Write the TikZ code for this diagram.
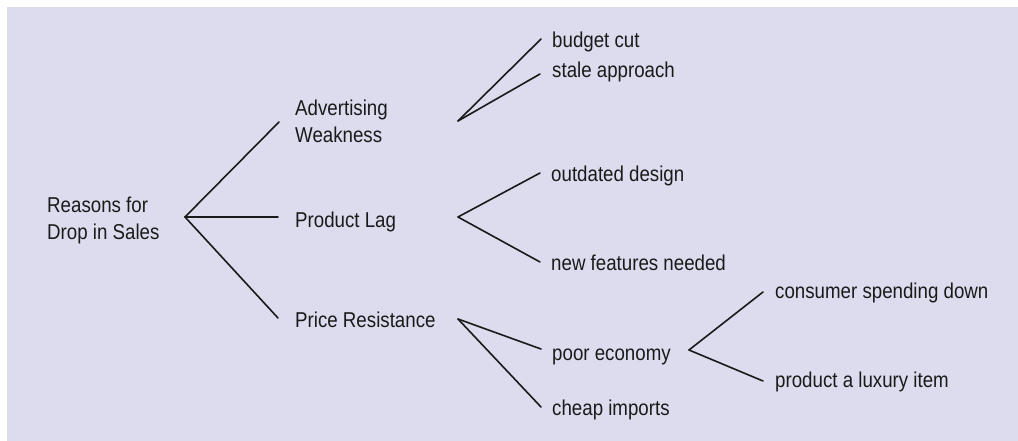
\documentclass[tikz,border=0pt]{standalone}
\usepackage{fontspec}
\setmainfont{Liberation Sans}[FakeStretch=0.87]
\usetikzlibrary{calc}
\definecolor{bg}{HTML}{DCDCEE}
\definecolor{ink}{HTML}{1A1A1A}
\begin{document}
\begin{tikzpicture}[x=1pt,y=-1pt,
  lbl/.style={anchor=base west,inner sep=0pt,text=ink,font=\fontsize{21.5}{28}\selectfont,align=left},
  conn/.style={draw=ink,line width=1.6pt,line cap=round}]
\useasboundingbox (0,0) rectangle (1018,441);
\fill[bg] (7,7) rectangle (1018,441);
% nodes (multi-line nodes: base = last line)
\node[lbl] (root) at (47,240) {Reasons for\\Drop in Sales};
\node[lbl] (adv) at (295,143) {Advertising\\Weakness};
\node[lbl] (prod) at (295,227) {Product Lag};
\node[lbl] (price) at (295,327) {Price Resistance};
\node[lbl] (bud) at (552,48) {budget cut};
\node[lbl] (stale) at (552,78) {stale approach};
\node[lbl] (outd) at (551,182) {outdated design};
\node[lbl] (newf) at (551,270) {new features needed};
\node[lbl] (poor) at (552,360) {poor economy};
\node[lbl] (cheap) at (552,415) {cheap imports};
\node[lbl] (cons) at (775,298) {consumer spending down};
\node[lbl] (lux) at (775,387) {product a luxury item};
% fork points
\coordinate (f0) at (185,217);
\coordinate (fA) at (458,121);
\coordinate (fP) at (458,217);
\coordinate (fR) at (458,319);
\coordinate (fE) at (689,350);
% connectors
\draw[conn] (f0) -- ($(adv.base west)+(-16,-21)$);
\draw[conn] (f0) -- ($(prod.base west)+(-17,-10)$);
\draw[conn] (f0) -- ($(price.base west)+(-17,-9)$);
\draw[conn] (fA) -- ($(bud.base west)+(-11,-9)$);
\draw[conn] (fA) -- ($(stale.base west)+(-12,-4)$);
\draw[conn] (fP) -- ($(outd.base west)+(-11,-9)$);
\draw[conn] (fP) -- ($(newf.base west)+(-11,-8)$);
\draw[conn] (fR) -- ($(poor.base west)+(-11,-11)$);
\draw[conn] (fR) -- ($(cheap.base west)+(-11,-8)$);
\draw[conn] (fE) -- ($(cons.base west)+(-12,-6)$);
\draw[conn] (fE) -- ($(lux.base west)+(-12,-6)$);
\end{tikzpicture}
\end{document}
